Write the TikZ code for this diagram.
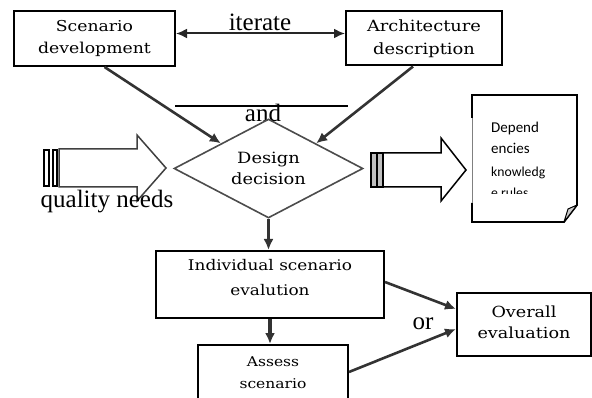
\documentclass[tikz,border=0pt]{standalone}
\usepackage{fontspec}
\setmainfont{Liberation Serif}
\newfontfamily\boxfont[FakeStretch=1.15]{DejaVu Serif}
\newfontfamily\docfont{Carlito}
\usetikzlibrary{shapes.geometric,arrows.meta}
\begin{document}
\begin{tikzpicture}[x=1pt,y=-1pt,
  box/.style={draw=black,line width=2pt,rectangle,inner sep=0pt},
  conn/.style={line width=2.6pt,draw=black!80,-{Latex[length=11pt,width=10pt]}},
  btext/.style={align=center,inner sep=0pt},
  big/.style={font=\fontsize{25}{30}\selectfont,inner sep=0pt,anchor=base},
  fat/.style={draw=black,line width=1.5pt,fill=white,line join=miter},
  doct/.style={font=\docfont,inner sep=0pt,anchor=base west}]
\useasboundingbox (0,0) rectangle (592,398);

% top boxes
\node[box,minimum width=161pt,minimum height=55pt] (sd) at (94.5,38.5) {};
\node[btext,font=\boxfont\fontsize{15}{22}\selectfont] (sdt) at (sd) {Scenario\\development};
\node[box,minimum width=156pt,minimum height=54pt] (ad) at (424,38.5) {};
\node[btext,font=\boxfont\fontsize{15.5}{23}\selectfont] (adt) at (ad) {Architecture\\description};

\draw[line width=2pt,draw=black!85,{Latex[length=11pt,width=10pt]}-{Latex[length=11pt,width=10pt]}]
  ([yshift=5pt]sd.east) -- ([yshift=5pt]ad.west);
\node[big] (it) at (260,31) {iterate};

% "and" bar
\coordinate (l1) at (175,106);
\coordinate (l2) at (348,106);
\draw[line width=1.2pt] (l1) -- (l2);
\node[big] (and) at (263,122) {and};

% diamond
\node[diamond,draw=black!70,line width=1.6pt,minimum width=189pt,minimum height=99pt,
      inner sep=0pt,aspect=1.9] (dd) at (268.5,168.5) {};
\node[btext,font=\boxfont\fontsize{15.5}{21}\selectfont] (ddt) at (dd) {Design\\decision};

\draw[conn] ([xshift=10pt]sd.south) -- (dd.north west);
\draw[conn] ([xshift=-11pt]ad.south) -- (dd.north east);

% left striped arrow
\draw[fat,line width=2pt] (44,150) rectangle (49,186);
\draw[fat,line width=2pt] (52.5,150) rectangle (56.5,186);
\coordinate (lt) at (166,168);
\draw[fat,draw=black!75] (59,149) -- (137,149) -- (137,135) -- (lt) -- (137,201) -- (137,187) -- (59,187) -- cycle;
\node[big] (qn) at (107,208) {quality needs};

% right striped arrow
\draw[fat,line width=1.2pt,fill=gray!50] (371,153) rectangle (377,187);
\draw[fat,line width=1.2pt,fill=gray!50] (377,153) rectangle (383,187);
\coordinate (rt) at (466,170);
\draw[fat] (383,153) -- (441,153) -- (441,138) -- (rt) -- (441,201) -- (441,187) -- (383,187) -- cycle;

% document
\draw[line width=1.8pt,line join=miter] (472,118) -- (472,95) -- (577,95) -- (577,205) -- (564,222) -- (472,222) -- (472,203);
\draw[line width=0.6pt,gray] (472,118) -- (472,203);
\draw[line width=1pt,fill=gray!40,line join=round] (577,205) -- (564,222) -- (568,209) -- cycle;
\node[doct,font=\docfont\fontsize{15}{18}\selectfont] (d1) at (491,133) {Depend};
\node[doct,font=\docfont\fontsize{15}{18}\selectfont] (d2) at (491,154) {encies};
\node[doct,font=\docfont\fontsize{13.7}{16}\selectfont] (d3) at (491,177) {knowledg};
\begin{scope}
\clip (480,180) rectangle (576,193.5);
\node[doct,font=\docfont\fontsize{13.7}{16}\selectfont] (d4) at (491,198) {e rules};
\end{scope}

% lower boxes
\node[box,minimum width=228pt,minimum height=67pt] (ind) at (270,284.5) {};
\node[btext,font=\boxfont\fontsize{14.7}{25}\selectfont] (indt) at (270,277.5) {Individual scenario\\evalution};
\draw[conn] (dd.south) -- (dd.south |- ind.north);

\node[box,minimum width=150pt,minimum height=70pt] (as) at (273,380) {};
\node[btext,font=\boxfont\fontsize{13.5}{22}\selectfont] (ast) at (273,373) {Assess\\scenario};
\draw[conn,line width=3.2pt] (ind.south) -- (ind.south |- as.north);

\node[box,minimum width=134pt,minimum height=63pt] (ov) at (524,324.5) {};
\node[btext,font=\boxfont\fontsize{15.3}{21}\selectfont] (ovt) at (524,322.5) {Overall\\evaluation};

\draw[conn] ([yshift=2.5pt]ind.east) -- ([yshift=15.5pt]ov.west);
\draw[conn] ([yshift=8pt]as.east) -- ([yshift=-4.5pt]ov.west);
\node[big] (or) at (423,330) {or};
\end{tikzpicture}
\end{document}
